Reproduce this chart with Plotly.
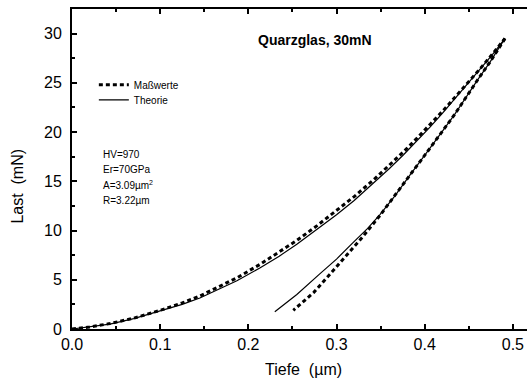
import plotly.graph_objects as go

# Loading branch, measured (depth in µm, load in mN)
load_h_meas = [0.000, 0.020, 0.043, 0.070, 0.100, 0.125, 0.145, 0.168, 0.187, 0.213,
               0.235, 0.255, 0.278, 0.300, 0.320, 0.342, 0.360, 0.376, 0.392, 0.406,
               0.420, 0.432, 0.448, 0.463, 0.477, 0.491]
load_p_meas = [0.00, 0.20, 0.55, 1.10, 1.90, 2.65, 3.35, 4.35, 5.20, 6.55,
               7.80, 9.00, 10.50, 12.00, 13.45, 15.15, 16.65, 18.00, 19.45, 20.75,
               22.10, 23.30, 24.90, 26.45, 27.95, 29.50]

# Loading branch, model
load_h_theo = [0.000, 0.020, 0.043, 0.070, 0.100, 0.125, 0.145, 0.168, 0.187, 0.213,
               0.235, 0.255, 0.278, 0.300, 0.320, 0.342, 0.360, 0.376, 0.392, 0.406,
               0.420, 0.432, 0.448, 0.463, 0.477, 0.491]
load_p_theo = [0.00, 0.20, 0.50, 1.05, 1.80, 2.50, 3.15, 4.10, 4.90, 6.20,
               7.40, 8.60, 10.10, 11.60, 13.05, 14.80, 16.30, 17.70, 19.15, 20.50,
               21.90, 23.15, 24.80, 26.40, 27.90, 29.50]

# Unloading branch, measured
unload_h_meas = [0.491, 0.474, 0.460, 0.447, 0.434, 0.421, 0.409, 0.398, 0.383, 0.366,
                 0.349, 0.330, 0.311, 0.293, 0.274, 0.251]
unload_p_meas = [29.50, 27.10, 25.30, 23.50, 21.80, 20.20, 18.70, 17.40, 15.60, 13.50,
                 11.50, 9.40, 7.40, 5.60, 3.70, 1.90]

# Unloading branch, model
unload_h_theo = [0.491, 0.474, 0.460, 0.447, 0.434, 0.421, 0.409, 0.398, 0.383, 0.366,
                 0.349, 0.335, 0.319, 0.300, 0.281, 0.255, 0.230]
unload_p_theo = [29.50, 27.10, 25.30, 23.50, 21.80, 20.20, 18.70, 17.40, 15.60, 13.50,
                 11.60, 10.20, 8.80, 7.10, 5.60, 3.50, 1.75]

x_ticks = [0.0, 0.1, 0.2, 0.3, 0.4, 0.5]
y_ticks = [0, 5, 10, 15, 20, 25, 30]

fit_params = ["HV=970", "Er=70GPa", "A=3.09µm<sup>2</sup>", "R=3.22µm"]

meas_line = dict(color="black", width=3, dash="4px,3px")
theo_line = dict(color="black", width=1.2)

fig = go.Figure()
fig.add_trace(go.Scatter(x=load_h_meas, y=load_p_meas, mode="lines", line=meas_line,
                         name="Maßwerte", legend="legend"))
fig.add_trace(go.Scatter(x=unload_h_meas, y=unload_p_meas, mode="lines", line=meas_line,
                         name="Maßwerte", showlegend=False))
fig.add_trace(go.Scatter(x=load_h_theo, y=load_p_theo, mode="lines", line=theo_line,
                         name="Theorie", legend="legend2"))
fig.add_trace(go.Scatter(x=unload_h_theo, y=unload_p_theo, mode="lines", line=theo_line,
                         name="Theorie", showlegend=False))

small_font = dict(family="Liberation Sans, Arial", size=10, color="black")
axis_font = dict(family="Liberation Sans, Arial", size=16, color="black")

for i, txt in enumerate(fit_params):
    fig.add_annotation(x=0.063, y=0.545 - i * 0.048, xref="paper", yref="paper",
                       text=txt, showarrow=False, xanchor="left", yanchor="middle",
                       font=small_font)

fig.add_annotation(x=0.535, y=0.903, xref="paper", yref="paper",
                   text="<b>Quarzglas, 30mN</b>", showarrow=False,
                   xanchor="center", yanchor="middle",
                   font=dict(family="Liberation Sans, Arial", size=14, color="black"))

# Axis titles
fig.add_annotation(x=0, y=0.445, xref="paper", yref="paper", xshift=-54,
                   text="Last  (mN)", textangle=-90, showarrow=False,
                   xanchor="center", yanchor="middle", font=axis_font)
fig.add_annotation(x=0.509, y=0, xref="paper", yref="paper", yshift=-40,
                   text="Tiefe  (µm)", showarrow=False,
                   xanchor="center", yanchor="middle", font=axis_font)

legend_common = dict(xanchor="left", yanchor="middle", bgcolor="rgba(0,0,0,0)",
                     font=small_font, itemwidth=30)

fig.update_layout(
    width=527, height=383,
    margin=dict(l=72, r=0, t=9, b=54),
    paper_bgcolor="white", plot_bgcolor="white",
    showlegend=True,
    legend=dict(x=0.048, y=0.763, **legend_common),
    legend2=dict(x=0.048, y=0.716, **legend_common),
    xaxis=dict(range=[0, 0.516], tickvals=x_ticks, tickformat=".1f",
               ticks="inside", ticklen=5, tickwidth=1.5, tickcolor="black",
               showline=True, linewidth=2, linecolor="black", mirror="ticks",
               showgrid=False, zeroline=False, tickfont=axis_font,
               minor=dict(dtick=0.05, ticks="inside", ticklen=3, tickcolor="black")),
    yaxis=dict(range=[0, 32.5], tickvals=y_ticks,
               ticks="inside", ticklen=5, tickwidth=1.5, tickcolor="black",
               showline=True, linewidth=2, linecolor="black",
               showgrid=False, zeroline=False, tickfont=axis_font,
               ticklabelstandoff=5,
               minor=dict(dtick=2.5, ticks="inside", ticklen=3, tickcolor="black")),
)

fig.write_html("out.html")
